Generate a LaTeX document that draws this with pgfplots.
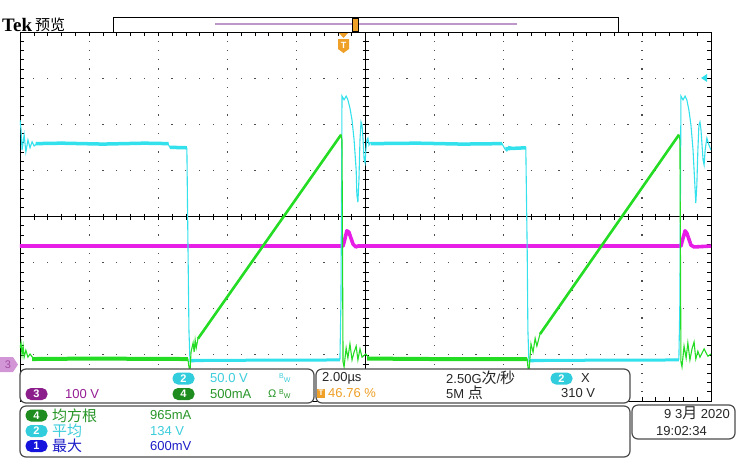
\documentclass[border=0pt]{standalone}
\usepackage{fontspec}
\setmainfont{Liberation Sans}
\newfontfamily\cjk{Noto Sans CJK SC}
\newfontfamily\tekfont{Liberation Serif}
\usepackage{pgfplots}
\pgfplotsset{compat=1.18}
\definecolor{cyanT}{RGB}{50,225,235}
\definecolor{magT}{RGB}{230,30,230}
\definecolor{grnT}{RGB}{35,220,35}
\definecolor{cyanTxt}{RGB}{60,205,220}
\definecolor{grnTxt}{RGB}{40,150,40}
\definecolor{purTxt}{RGB}{150,30,150}
\definecolor{bluTxt}{RGB}{30,30,200}
\definecolor{orgT}{RGB}{238,160,40}
\definecolor{cyanB}{RGB}{50,205,220}
\definecolor{grnB}{RGB}{30,140,30}
\definecolor{purB}{RGB}{140,30,140}
\definecolor{bluB}{RGB}{20,20,220}
\definecolor{recLine}{RGB}{190,150,200}
\definecolor{tab3}{RGB}{210,150,215}
\newcommand\fs[1]{\fontsize{#1}{#1}\selectfont}
\tikzset{
  panel/.style={draw=black!70, line width=1.2pt, fill=white, rounded corners=6pt},
  badge/.style={fill=#1, rounded corners=5.5pt, minimum width=22pt, minimum height=12pt,
    inner sep=0pt, text=white, font=\bfseries\fs{11}},
  lbl/.style={anchor=west, inner sep=0pt, font=\fs{13}},
  cj/.style={anchor=west, inner sep=0pt, font=\cjk\fs{15}}
}

\begin{document}
\begin{tikzpicture}
\begin{scope}[x=1pt,y=-1pt]
  \useasboundingbox (0,0) rectangle (746,472);
  % graticule: screen 20..711 x 32..401, 10 x 8 divisions
  \foreach \i in {1,...,9}{
    \foreach \j in {1,...,39}{
      \fill[black!70] ({20+69.1*\i-0.6},{32+9.225*\j-0.6}) rectangle ++(1.2,1.2);
    }
  }
  \foreach \k in {1,2,3,5,6,7}{
    \foreach \j in {1,...,49}{
      \fill[black!70] ({20+13.82*\j-0.6},{32+46.125*\k-0.6}) rectangle ++(1.2,1.2);
    }
  }
  \draw[black, line width=1pt] (20,216.5) -- (711,216.5);
  \draw[black, line width=1pt] (365.5,32) -- (365.5,401);
  \foreach \j in {1,...,49}{\draw[black, line width=0.6pt] ({20+13.82*\j},213.5) -- ++(0,6);}
  \foreach \j in {1,...,39}{\draw[black, line width=0.6pt] (362.5,{32+9.225*\j}) -- ++(6,0);}
\end{scope}

\begin{axis}[
  at={(20pt,-401pt)}, anchor=south west,
  width=691pt, height=369pt, scale only axis,
  xmin=0, xmax=20, ymin=-4, ymax=4,
  xtick={0,2,...,20}, ytick={-4,-3,...,4},
  xticklabels={}, yticklabels={},
  minor x tick num=4, minor y tick num=4,
  tick align=inside, major tick length=4pt, minor tick length=4pt,
  tick style={black, line width=0.6pt},
  axis line style={black, line width=0.9pt},
]
% CH3 (magenta)
\addplot[magT, line width=3.6pt, line join=round] coordinates {
(0,-0.64) (9.35,-0.64) (9.41,-0.47) (9.46,-0.31) (9.52,-0.34) (9.58,-0.47) (9.64,-0.60) (9.72,-0.66) (9.78,-0.64)
(19.13,-0.64) (19.19,-0.47) (19.25,-0.31) (19.30,-0.36) (19.36,-0.49) (19.42,-0.62) (19.51,-0.66) (20,-0.64)};

% CH2 (cyan)
\addplot[cyanT, line width=1.1pt] coordinates {
(0.00,2.09) (0.03,1.88) (0.06,1.44) (0.12,1.77) (0.17,1.40) (0.23,1.66) (0.29,1.49) (0.35,1.62) (0.41,1.53) (0.52,1.60)
(1.50,1.57) (3.00,1.58) (4.28,1.58) (4.34,1.50) (4.83,1.48) (4.86,-0.51) (4.89,-2.46) (4.92,-3.15)
(6.50,-3.12) (8.00,-3.11) (9.26,-3.10) (9.29,-1.81) (9.32,2.61) (9.38,2.53) (9.44,2.61) (9.49,2.53) (9.55,2.35)
(9.61,2.09) (9.67,1.66) (9.73,1.01) (9.75,0.47) (9.78,0.31) (9.81,0.79) (9.84,1.66) (9.87,2.05) (9.90,1.98)
(9.93,1.66) (9.96,1.23) (9.99,1.16) (10.01,1.44) (10.04,1.66) (10.07,1.70) (10.10,1.55) (10.13,1.60)
(12.00,1.58) (13.95,1.58) (14.03,1.47) (14.09,1.42) (14.15,1.52) (14.30,1.48) (14.64,1.49) (14.68,-0.73)
(14.70,-2.46) (14.73,-3.15) (16.50,-3.12) (19.07,-3.10) (19.10,-1.81) (19.13,2.61) (19.19,2.53) (19.25,2.61)
(19.30,2.53) (19.36,2.31) (19.42,1.98) (19.48,1.44) (19.54,0.58) (19.56,0.29) (19.59,0.68) (19.62,1.44)
(19.65,1.98) (19.68,2.05) (19.71,1.88) (19.77,1.23) (19.80,1.12) (19.83,1.44) (19.88,1.70) (19.94,1.55) (20.00,1.44)};
\addplot[cyanT, line width=3.5pt] coordinates {(0.45,1.58) (1.2,1.59) (2.4,1.57) (3.6,1.59) (4.30,1.58)};
\addplot[cyanT, line width=3.5pt] coordinates {(4.34,1.50) (4.83,1.49)};
\addplot[cyanT, line width=3.5pt] coordinates {(10.15,1.58) (11.5,1.59) (12.8,1.57) (13.95,1.58)};
\addplot[cyanT, line width=3.5pt] coordinates {(14.05,1.47) (14.64,1.49)};
\addplot[cyanT, line width=3pt] coordinates {(4.95,-3.12) (9.26,-3.11)};
\addplot[cyanT, line width=3pt] coordinates {(14.76,-3.12) (19.07,-3.11)};

% CH4 (green)
\addplot[grnT, line width=1.1pt] coordinates {
(0.00,-2.85) (0.03,-2.74) (0.06,-3.00) (0.09,-2.81) (0.12,-3.05) (0.17,-2.90) (0.23,-3.05) (0.29,-2.98) (0.40,-3.09)
(4.86,-3.09) (4.89,-3.26) (4.92,-3.37) (4.95,-2.94) (5.01,-2.74) (5.04,-2.94) (5.07,-2.68) (5.10,-2.85) (5.15,-2.65)
(9.29,1.77) (9.32,1.66) (9.35,-3.15) (9.38,-3.26) (9.44,-2.85) (9.49,-3.07) (9.55,-2.76) (9.61,-3.11) (9.67,-2.94)
(9.73,-2.81) (9.78,-3.11) (9.84,-2.87) (9.90,-3.05) (10.01,-2.98) (10.13,-3.09) (14.68,-3.09) (14.70,-3.26)
(14.73,-3.37) (14.79,-2.76) (14.85,-2.94) (14.91,-2.64) (14.96,-2.81) (15.05,-2.55) (19.07,1.77) (19.10,1.66)
(19.13,-3.15) (19.16,-3.26) (19.22,-2.81) (19.28,-3.07) (19.33,-2.74) (19.39,-3.11) (19.45,-2.87) (19.51,-2.72)
(19.56,-3.09) (19.62,-2.92) (19.68,-3.05) (19.80,-2.87) (19.91,-3.03) (20.00,-2.98)};
\addplot[grnT, line width=4pt] coordinates {(0.35,-3.09) (2.0,-3.08) (4.86,-3.09)};
\addplot[grnT, line width=4pt] coordinates {(10.05,-3.08) (12.0,-3.09) (14.68,-3.09)};
\addplot[grnT, line width=2.6pt] coordinates {(5.15,-2.65) (9.29,1.77)};
\addplot[grnT, line width=2.6pt] coordinates {(15.05,-2.55) (19.07,1.77)};
\end{axis}

\begin{scope}[x=1pt,y=-1pt]
  % header
  \node[anchor=base west, inner sep=0pt, font=\tekfont\bfseries\fs{19}] at (2,31) {Tek};
  \node[anchor=base west, inner sep=0pt, font=\cjk\fs{15}] at (35,30) {预览};
  \draw[black, line width=1pt, fill=white] (113,17) rectangle (618,32);
  \draw[recLine, line width=2pt] (215,23.5) -- (517,23.5);
  \draw[black, line width=1pt, fill=orgT] (352,18) rectangle (358,31);
  % trigger marker
  \fill[orgT] (339,33) -- (348,33) -- (343.5,38) -- cycle;
  \fill[orgT] (338,39) -- (349,39) -- (349,49) -- (343.5,53) -- (338,49) -- cycle;
  \node[text=white, font=\bfseries\fs{9}, inner sep=0pt] at (343.5,45) {T};
  % level / channel markers
  \fill[cyanT] (701,78) -- (707,74) -- (707,82) -- cycle;
  \fill[tab3] (0,357) -- (13,357) -- (18,364.5) -- (13,372) -- (0,372) -- cycle;
  \node[text=purB!80, font=\fs{11}, inner sep=0pt] at (8,364.5) {3};

  % channel panel
  \draw[panel] (20,369) rectangle (314,403);
  \node[badge=cyanB] at (183.5,378.5) {2};
  \node[lbl, text=cyanTxt] at (210,378) {50.0 V};
  \node[anchor=west, inner sep=0pt, text=cyanTxt, font=\fs{7}] at (279,378) {\raisebox{2pt}{B}\raisebox{-2pt}{W}};
  \node[badge=purB] at (36.5,394) {3};
  \node[lbl, text=purTxt] at (65,394) {100 V};
  \node[badge=grnB] at (183.5,394) {4};
  \node[lbl, text=grnTxt] at (210,394) {500mA};
  \node[lbl, text=grnTxt, font=\fs{11}] at (268,394) {Ω};
  \node[anchor=west, inner sep=0pt, text=grnTxt, font=\fs{7}] at (279,394) {\raisebox{2pt}{B}\raisebox{-2pt}{W}};

  % horizontal panel
  \draw[panel] (316,369) rectangle (630,403);
  \node[lbl, text=black!85] at (322,378) {2.00µs};
  \node[fill=orgT, minimum width=8pt, minimum height=9pt, inner sep=0pt, text=white, font=\bfseries\fs{8}] at (321,393) {T};
  \node[lbl, text=orgT] at (328,393) {46.76 \%};
  \node[lbl, text=black!85] at (446,378) {2.50G{\cjk\fs{15}次}/{\cjk\fs{15}秒}};
  \node[lbl, text=black!85] at (446,393) {5M {\cjk\fs{15}点}};
  \node[badge=cyanB] at (561.5,378.5) {2};
  \node[lbl, text=black!85] at (581,378) {X};
  \node[lbl, text=black!85] at (561,393) {310 V};

  % measurement panel
  \draw[panel] (20,406) rectangle (630,457);
  \node[badge=grnB] at (36.5,415.5) {4};
  \node[cj, text=grnTxt] at (52,415.5) {均方根};
  \node[lbl, text=grnTxt] at (150,415.5) {965mA};
  \node[badge=cyanB] at (36.5,431) {2};
  \node[cj, text=cyanTxt] at (52,431) {平均};
  \node[lbl, text=cyanTxt] at (150,431) {134 V};
  \node[badge=bluB] at (36.5,446) {1};
  \node[cj, text=bluTxt] at (52,446) {最大};
  \node[lbl, text=bluTxt] at (150,446) {600mV};

  % date panel
  \draw[panel] (632,405) rectangle (735,439);
  \node[lbl, anchor=east, text=black!85] at (730,413) {9 3{\cjk\fs{15}月} 2020};
  \node[lbl, text=black!85] at (656,431) {19:02:34};
\end{scope}
\end{tikzpicture}
\end{document}
